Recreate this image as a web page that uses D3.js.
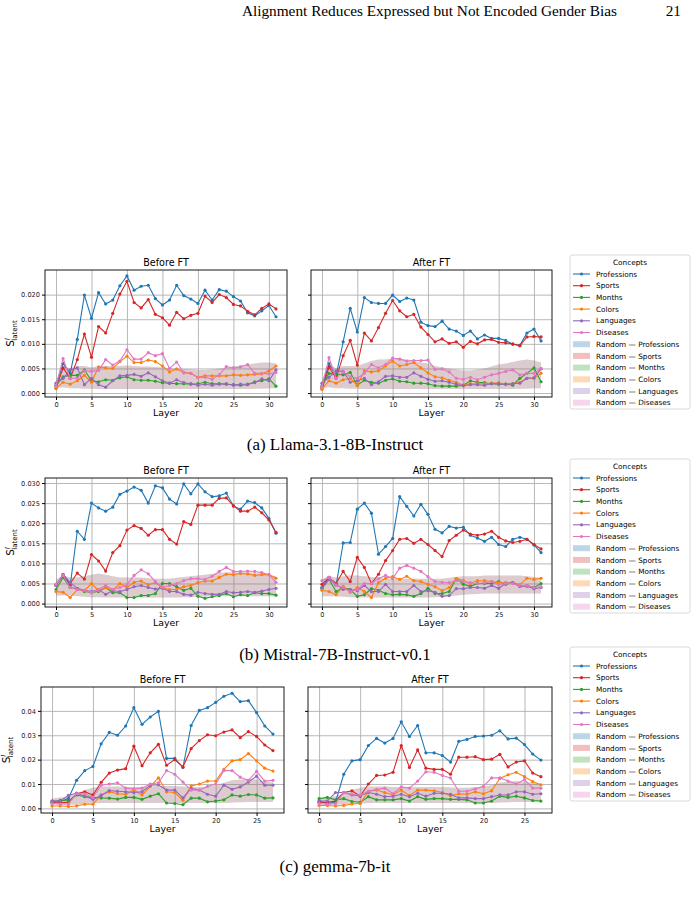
<!DOCTYPE html>
<html>
<head>
<meta charset="utf-8">
<script src="https://cdn.jsdelivr.net/npm/d3@7"></script>
<style>
  body { margin: 0; background: #fff; }
  svg { display: block; }
  .tick text { font-family: "DejaVu Sans", sans-serif; }
</style>
</head>
<body>
<svg id="fig" width="699" height="899"></svg>
<script>
(function() {
    'use strict';

    // ---- data ----
    var concepts = ['Professions', 'Sports', 'Months', 'Colors', 'Languages', 'Diseases'];
    var conceptColors = ['#1f77b4', '#d62728', '#2ca02c', '#ff7f0e', '#9467bd', '#e377c2'];
    var xTicks32 = [0, 5, 10, 15, 20, 25, 30];
    var xTicks28 = [0, 5, 10, 15, 20, 25];
    var yTicksA = [0, 0.005, 0.010, 0.015, 0.020];
    var yTicksB = [0, 0.005, 0.010, 0.015, 0.020, 0.025, 0.030];
    var yTicksC = [0, 0.01, 0.02, 0.03, 0.04];

    // (a) Llama-3.1-8B-Instruct, before FT
    var aBeforeProf = [0.0015,0.0060,0.0040,0.0109,0.0199,0.0152,0.0204,0.0181,0.0189,0.0218,0.0238,0.0209,0.0217,0.0219,0.0192,0.0179,0.0189,0.0219,0.0198,0.0191,0.0182,0.0209,0.0189,0.0210,0.0207,0.0196,0.0187,0.0163,0.0157,0.0167,0.0178,0.0155];
    var aBeforeSports = [0.0010,0.0051,0.0030,0.0068,0.0120,0.0073,0.0135,0.0122,0.0162,0.0201,0.0227,0.0184,0.0173,0.0190,0.0160,0.0153,0.0138,0.0164,0.0151,0.0158,0.0162,0.0197,0.0184,0.0200,0.0194,0.0180,0.0177,0.0166,0.0159,0.0172,0.0181,0.0171];
    var aBeforeMonths = [0.0015,0.0033,0.0036,0.0036,0.0047,0.0025,0.0023,0.0027,0.0026,0.0031,0.0033,0.0027,0.0026,0.0026,0.0024,0.0021,0.0020,0.0019,0.0019,0.0018,0.0019,0.0022,0.0019,0.0019,0.0018,0.0017,0.0016,0.0017,0.0023,0.0025,0.0029,0.0014];
    var aBeforeColors = [0.0010,0.0022,0.0018,0.0025,0.0036,0.0022,0.0053,0.0051,0.0050,0.0064,0.0075,0.0062,0.0062,0.0067,0.0064,0.0055,0.0043,0.0049,0.0042,0.0040,0.0032,0.0035,0.0035,0.0035,0.0035,0.0037,0.0036,0.0037,0.0038,0.0039,0.0045,0.0055];
    var aBeforeLang = [0.0020,0.0030,0.0047,0.0051,0.0017,0.0030,0.0017,0.0012,0.0025,0.0035,0.0036,0.0038,0.0034,0.0041,0.0033,0.0025,0.0020,0.0027,0.0021,0.0019,0.0016,0.0018,0.0016,0.0018,0.0019,0.0016,0.0018,0.0018,0.0021,0.0029,0.0025,0.0047];
    var aBeforeDis = [0.0015,0.0070,0.0030,0.0030,0.0045,0.0044,0.0046,0.0068,0.0057,0.0065,0.0088,0.0069,0.0069,0.0082,0.0076,0.0080,0.0050,0.0063,0.0041,0.0040,0.0031,0.0032,0.0028,0.0037,0.0054,0.0051,0.0053,0.0058,0.0040,0.0040,0.0039,0.0042];
    var aBeforeRandLo = [0.0010,0.0012,0.0010,0.0010,0.0009,0.0009,0.0008,0.0008,0.0008,0.0008,0.0008,0.0008,0.0008,0.0008,0.0008,0.0008,0.0008,0.0008,0.0008,0.0008,0.0008,0.0008,0.0008,0.0008,0.0008,0.0008,0.0008,0.0008,0.0009,0.0009,0.0010,0.0010];
    var aBeforeRandHi = [0.0025,0.0055,0.0050,0.0055,0.0055,0.0052,0.0055,0.0055,0.0055,0.0055,0.0056,0.0055,0.0054,0.0054,0.0053,0.0052,0.0050,0.0050,0.0049,0.0048,0.0047,0.0047,0.0048,0.0050,0.0052,0.0054,0.0056,0.0058,0.0060,0.0062,0.0062,0.0060];

    // (a) after FT
    var aAfterProf = [0.0012,0.0060,0.0035,0.0104,0.0172,0.0124,0.0194,0.0184,0.0182,0.0182,0.0199,0.0186,0.0193,0.0189,0.0144,0.0137,0.0135,0.0146,0.0130,0.0126,0.0117,0.0126,0.0110,0.0118,0.0111,0.0111,0.0107,0.0099,0.0097,0.0122,0.0130,0.0106];
    var aAfterSports = [0.0008,0.0053,0.0030,0.0076,0.0107,0.0057,0.0122,0.0106,0.0133,0.0162,0.0188,0.0167,0.0155,0.0160,0.0134,0.0119,0.0104,0.0110,0.0101,0.0104,0.0093,0.0105,0.0100,0.0108,0.0109,0.0103,0.0102,0.0100,0.0096,0.0114,0.0115,0.0114];
    var aAfterMonths = [0.0015,0.0040,0.0039,0.0037,0.0042,0.0016,0.0026,0.0022,0.0020,0.0026,0.0029,0.0024,0.0023,0.0020,0.0020,0.0019,0.0015,0.0014,0.0014,0.0014,0.0016,0.0025,0.0022,0.0021,0.0019,0.0018,0.0018,0.0016,0.0030,0.0040,0.0051,0.0023];
    var aAfterColors = [0.0008,0.0025,0.0020,0.0027,0.0030,0.0016,0.0045,0.0043,0.0045,0.0055,0.0065,0.0055,0.0058,0.0062,0.0051,0.0041,0.0033,0.0031,0.0026,0.0022,0.0016,0.0019,0.0019,0.0019,0.0020,0.0021,0.0018,0.0019,0.0022,0.0030,0.0030,0.0040];
    var aAfterLang = [0.0020,0.0032,0.0045,0.0044,0.0022,0.0025,0.0030,0.0017,0.0023,0.0034,0.0035,0.0032,0.0032,0.0041,0.0034,0.0028,0.0024,0.0025,0.0022,0.0018,0.0015,0.0017,0.0017,0.0016,0.0019,0.0019,0.0018,0.0019,0.0020,0.0030,0.0031,0.0049];
    var aAfterDis = [0.0013,0.0072,0.0030,0.0043,0.0033,0.0030,0.0040,0.0058,0.0051,0.0058,0.0071,0.0069,0.0065,0.0066,0.0066,0.0067,0.0048,0.0049,0.0043,0.0030,0.0028,0.0032,0.0027,0.0032,0.0037,0.0040,0.0044,0.0047,0.0037,0.0040,0.0040,0.0050];
    var aAfterRandLo = [0.0010,0.0012,0.0010,0.0010,0.0009,0.0009,0.0008,0.0008,0.0008,0.0008,0.0008,0.0008,0.0008,0.0008,0.0008,0.0008,0.0008,0.0008,0.0008,0.0008,0.0008,0.0008,0.0008,0.0008,0.0008,0.0008,0.0008,0.0008,0.0009,0.0009,0.0010,0.0010];
    var aAfterRandHi = [0.0025,0.0060,0.0050,0.0055,0.0055,0.0055,0.0060,0.0065,0.0068,0.0068,0.0070,0.0070,0.0068,0.0066,0.0062,0.0060,0.0055,0.0052,0.0050,0.0048,0.0046,0.0046,0.0048,0.0050,0.0054,0.0058,0.0060,0.0063,0.0066,0.0068,0.0066,0.0062];

    // (b) Mistral-7B-Instruct-v0.1, before FT
    var bBeforeProf = [0.0045,0.0072,0.0045,0.0180,0.0160,0.0250,0.0238,0.0230,0.0240,0.0272,0.0280,0.0290,0.0282,0.0250,0.0293,0.0288,0.0260,0.0248,0.0298,0.0273,0.0298,0.0278,0.0266,0.0268,0.0275,0.0243,0.0235,0.0255,0.0251,0.0238,0.0212,0.0175];
    var bBeforeSports = [0.0048,0.0068,0.0050,0.0076,0.0061,0.0122,0.0106,0.0081,0.0127,0.0144,0.0183,0.0194,0.0187,0.0170,0.0184,0.0184,0.0160,0.0148,0.0204,0.0197,0.0245,0.0245,0.0245,0.0262,0.0263,0.0243,0.0230,0.0230,0.0240,0.0226,0.0208,0.0177];
    var bBeforeMonths = [0.0035,0.0065,0.0040,0.0037,0.0030,0.0028,0.0030,0.0040,0.0027,0.0027,0.0015,0.0015,0.0020,0.0020,0.0025,0.0050,0.0050,0.0042,0.0033,0.0038,0.0018,0.0013,0.0017,0.0020,0.0025,0.0017,0.0022,0.0020,0.0027,0.0025,0.0025,0.0021];
    var bBeforeColors = [0.0030,0.0028,0.0015,0.0035,0.0032,0.0050,0.0032,0.0040,0.0033,0.0050,0.0040,0.0053,0.0056,0.0047,0.0052,0.0040,0.0035,0.0035,0.0042,0.0045,0.0052,0.0056,0.0056,0.0065,0.0073,0.0072,0.0075,0.0074,0.0070,0.0072,0.0072,0.0063];
    var bBeforeLang = [0.0045,0.0073,0.0052,0.0038,0.0033,0.0030,0.0035,0.0023,0.0032,0.0030,0.0035,0.0042,0.0045,0.0040,0.0036,0.0038,0.0030,0.0030,0.0023,0.0021,0.0028,0.0025,0.0023,0.0023,0.0030,0.0027,0.0028,0.0030,0.0028,0.0031,0.0035,0.0038];
    var bBeforeDis = [0.0048,0.0070,0.0040,0.0035,0.0033,0.0028,0.0035,0.0045,0.0035,0.0040,0.0047,0.0070,0.0084,0.0074,0.0055,0.0040,0.0045,0.0050,0.0057,0.0062,0.0062,0.0060,0.0068,0.0080,0.0090,0.0080,0.0080,0.0081,0.0080,0.0077,0.0072,0.0053];
    var bBeforeRandLo = [0.0020,0.0020,0.0020,0.0018,0.0017,0.0016,0.0016,0.0015,0.0015,0.0015,0.0015,0.0015,0.0015,0.0015,0.0015,0.0015,0.0015,0.0015,0.0016,0.0016,0.0017,0.0017,0.0018,0.0018,0.0018,0.0018,0.0018,0.0018,0.0018,0.0018,0.0018,0.0018];
    var bBeforeRandHi = [0.0060,0.0070,0.0065,0.0065,0.0068,0.0072,0.0075,0.0072,0.0068,0.0065,0.0065,0.0065,0.0065,0.0063,0.0062,0.0062,0.0062,0.0064,0.0066,0.0068,0.0070,0.0072,0.0074,0.0076,0.0078,0.0078,0.0078,0.0078,0.0077,0.0075,0.0072,0.0068];

    // (b) after FT
    var bAfterProf = [0.0040,0.0065,0.0045,0.0151,0.0152,0.0235,0.0250,0.0225,0.0123,0.0142,0.0162,0.0266,0.0242,0.0218,0.0247,0.0222,0.0185,0.0176,0.0192,0.0188,0.0190,0.0170,0.0163,0.0155,0.0165,0.0147,0.0142,0.0160,0.0165,0.0160,0.0146,0.0127];
    var bAfterSports = [0.0048,0.0065,0.0050,0.0080,0.0055,0.0115,0.0090,0.0050,0.0073,0.0107,0.0132,0.0160,0.0162,0.0150,0.0160,0.0147,0.0132,0.0117,0.0157,0.0170,0.0183,0.0173,0.0170,0.0173,0.0180,0.0165,0.0156,0.0152,0.0155,0.0160,0.0147,0.0136];
    var bAfterMonths = [0.0037,0.0060,0.0030,0.0040,0.0035,0.0018,0.0022,0.0037,0.0033,0.0025,0.0022,0.0023,0.0022,0.0018,0.0025,0.0038,0.0025,0.0025,0.0030,0.0062,0.0048,0.0043,0.0050,0.0050,0.0050,0.0055,0.0048,0.0052,0.0043,0.0045,0.0040,0.0050];
    var bAfterColors = [0.0033,0.0030,0.0022,0.0043,0.0028,0.0040,0.0030,0.0015,0.0052,0.0063,0.0067,0.0060,0.0068,0.0057,0.0055,0.0048,0.0042,0.0032,0.0040,0.0063,0.0057,0.0050,0.0057,0.0057,0.0055,0.0052,0.0052,0.0052,0.0047,0.0063,0.0060,0.0063];
    var bAfterLang = [0.0040,0.0060,0.0048,0.0035,0.0035,0.0032,0.0045,0.0030,0.0030,0.0048,0.0030,0.0030,0.0030,0.0045,0.0030,0.0032,0.0028,0.0018,0.0020,0.0037,0.0037,0.0040,0.0040,0.0038,0.0045,0.0038,0.0050,0.0052,0.0043,0.0043,0.0037,0.0040];
    var bAfterDis = [0.0057,0.0065,0.0045,0.0040,0.0030,0.0035,0.0050,0.0050,0.0062,0.0070,0.0062,0.0088,0.0095,0.0088,0.0080,0.0067,0.0055,0.0053,0.0052,0.0057,0.0055,0.0052,0.0050,0.0052,0.0055,0.0047,0.0050,0.0050,0.0045,0.0045,0.0040,0.0042];
    var bAfterRandLo = [0.0018,0.0018,0.0018,0.0017,0.0016,0.0015,0.0015,0.0015,0.0015,0.0015,0.0015,0.0015,0.0015,0.0015,0.0015,0.0015,0.0016,0.0017,0.0018,0.0020,0.0022,0.0023,0.0024,0.0025,0.0025,0.0025,0.0025,0.0025,0.0025,0.0025,0.0025,0.0025];
    var bAfterRandHi = [0.0060,0.0068,0.0065,0.0068,0.0070,0.0070,0.0068,0.0066,0.0064,0.0062,0.0062,0.0062,0.0062,0.0062,0.0062,0.0062,0.0062,0.0062,0.0064,0.0066,0.0068,0.0068,0.0068,0.0070,0.0070,0.0070,0.0070,0.0070,0.0070,0.0068,0.0066,0.0064];

    // (c) gemma-7b-it, before FT
    var cBeforeProf = [0.0030,0.0028,0.0040,0.0115,0.0155,0.0172,0.0265,0.0312,0.0300,0.0338,0.0413,0.0345,0.0375,0.0398,0.0205,0.0205,0.0168,0.0340,0.0402,0.0413,0.0435,0.0460,0.0472,0.0438,0.0442,0.0393,0.0338,0.0305];
    var cBeforeSports = [0.0023,0.0023,0.0025,0.0060,0.0068,0.0055,0.0107,0.0145,0.0157,0.0163,0.0255,0.0175,0.0228,0.0263,0.0177,0.0200,0.0170,0.0245,0.0278,0.0302,0.0298,0.0313,0.0322,0.0290,0.0315,0.0295,0.0260,0.0237];
    var cBeforeMonths = [0.0025,0.0033,0.0030,0.0055,0.0048,0.0045,0.0043,0.0042,0.0038,0.0045,0.0045,0.0037,0.0050,0.0060,0.0022,0.0020,0.0015,0.0042,0.0042,0.0027,0.0030,0.0035,0.0055,0.0050,0.0057,0.0055,0.0042,0.0043];
    var cBeforeColors = [0.0010,0.0010,0.0008,0.0010,0.0017,0.0017,0.0055,0.0068,0.0060,0.0058,0.0075,0.0055,0.0090,0.0125,0.0068,0.0065,0.0033,0.0092,0.0100,0.0112,0.0112,0.0160,0.0195,0.0200,0.0225,0.0195,0.0165,0.0153];
    var cBeforeLang = [0.0030,0.0030,0.0053,0.0063,0.0050,0.0037,0.0053,0.0073,0.0070,0.0068,0.0065,0.0068,0.0095,0.0097,0.0075,0.0075,0.0043,0.0082,0.0075,0.0058,0.0050,0.0095,0.0078,0.0088,0.0108,0.0132,0.0095,0.0095];
    var cBeforeDis = [0.0020,0.0018,0.0018,0.0060,0.0060,0.0045,0.0095,0.0100,0.0105,0.0083,0.0080,0.0083,0.0100,0.0105,0.0155,0.0140,0.0108,0.0075,0.0075,0.0090,0.0100,0.0155,0.0155,0.0128,0.0115,0.0152,0.0112,0.0115];
    var cBeforeRandLo = [0.0015,0.0015,0.0015,0.0015,0.0018,0.0020,0.0022,0.0022,0.0022,0.0022,0.0022,0.0022,0.0022,0.0022,0.0022,0.0022,0.0022,0.0022,0.0022,0.0022,0.0022,0.0022,0.0024,0.0025,0.0026,0.0026,0.0026,0.0026];
    var cBeforeRandHi = [0.0040,0.0045,0.0050,0.0060,0.0075,0.0085,0.0090,0.0090,0.0090,0.0088,0.0088,0.0088,0.0090,0.0092,0.0092,0.0092,0.0090,0.0088,0.0088,0.0090,0.0095,0.0105,0.0115,0.0118,0.0120,0.0118,0.0110,0.0105];

    // (c) after FT
    var cAfterProf = [0.0030,0.0020,0.0025,0.0140,0.0195,0.0200,0.0258,0.0287,0.0268,0.0287,0.0355,0.0295,0.0340,0.0228,0.0228,0.0217,0.0190,0.0275,0.0283,0.0295,0.0297,0.0300,0.0318,0.0285,0.0288,0.0262,0.0223,0.0198];
    var cAfterSports = [0.0025,0.0025,0.0030,0.0065,0.0072,0.0050,0.0100,0.0135,0.0137,0.0148,0.0258,0.0168,0.0240,0.0165,0.0160,0.0160,0.0140,0.0210,0.0210,0.0212,0.0200,0.0202,0.0222,0.0170,0.0190,0.0195,0.0145,0.0130];
    var cAfterMonths = [0.0040,0.0045,0.0035,0.0040,0.0028,0.0025,0.0048,0.0035,0.0035,0.0035,0.0040,0.0030,0.0048,0.0037,0.0040,0.0040,0.0037,0.0037,0.0035,0.0022,0.0022,0.0030,0.0050,0.0045,0.0050,0.0043,0.0032,0.0030];
    var cAfterColors = [0.0012,0.0012,0.0010,0.0012,0.0018,0.0020,0.0070,0.0075,0.0065,0.0055,0.0075,0.0052,0.0075,0.0075,0.0072,0.0065,0.0052,0.0060,0.0058,0.0068,0.0060,0.0072,0.0123,0.0138,0.0148,0.0130,0.0110,0.0097];
    var cAfterLang = [0.0030,0.0030,0.0065,0.0065,0.0055,0.0052,0.0065,0.0058,0.0048,0.0050,0.0058,0.0048,0.0062,0.0050,0.0062,0.0062,0.0058,0.0043,0.0043,0.0040,0.0040,0.0048,0.0055,0.0055,0.0068,0.0068,0.0058,0.0060];
    var cAfterDis = [0.0020,0.0017,0.0020,0.0065,0.0058,0.0055,0.0070,0.0078,0.0083,0.0060,0.0088,0.0083,0.0112,0.0150,0.0148,0.0135,0.0125,0.0070,0.0070,0.0080,0.0090,0.0125,0.0125,0.0112,0.0100,0.0118,0.0083,0.0083];
    var cAfterRandLo = [0.0015,0.0015,0.0015,0.0015,0.0018,0.0020,0.0022,0.0022,0.0022,0.0022,0.0022,0.0022,0.0022,0.0022,0.0022,0.0022,0.0022,0.0022,0.0022,0.0022,0.0022,0.0022,0.0024,0.0025,0.0026,0.0026,0.0026,0.0026];
    var cAfterRandHi = [0.0040,0.0045,0.0050,0.0060,0.0075,0.0085,0.0090,0.0090,0.0090,0.0088,0.0088,0.0088,0.0088,0.0088,0.0088,0.0088,0.0086,0.0085,0.0085,0.0087,0.0090,0.0095,0.0105,0.0110,0.0112,0.0110,0.0105,0.0100];

    // ---- layout ----
    var rows = [
        {top: 270, bottom: 397, yDom: [-0.0008, 0.0250], yTicks: yTicksA, fmt: '.3f', xTicks: xTicks32,
         xDom: [-1.55, 32.55], lefts: [[45, 287], [311, 552]], legendTop: 255,
         caption: '(a) Llama-3.1-8B-Instruct', captionY: 450,
         series: [[aBeforeProf, aBeforeSports, aBeforeMonths, aBeforeColors, aBeforeLang, aBeforeDis],
                  [aAfterProf, aAfterSports, aAfterMonths, aAfterColors, aAfterLang, aAfterDis]],
         rand: [[aBeforeRandLo, aBeforeRandHi], [aAfterRandLo, aAfterRandHi]]},
        {top: 478, bottom: 607, yDom: [-0.00085, 0.03125], yTicks: yTicksB, fmt: '.3f', xTicks: xTicks32,
         xDom: [-1.55, 32.55], lefts: [[45, 287], [311, 552]], legendTop: 459,
         caption: '(b) Mistral-7B-Instruct-v0.1', captionY: 660,
         series: [[bBeforeProf, bBeforeSports, bBeforeMonths, bBeforeColors, bBeforeLang, bBeforeDis],
                  [bAfterProf, bAfterSports, bAfterMonths, bAfterColors, bAfterLang, bAfterDis]],
         rand: [[bBeforeRandLo, bBeforeRandHi], [bAfterRandLo, bAfterRandHi]]},
        {top: 687, bottom: 813, yDom: [-0.0019, 0.0498], yTicks: yTicksC, fmt: '.2f', xTicks: xTicks28,
         xDom: [-1.35, 28.35], lefts: [[41, 284], [308, 552]], legendTop: 647,
         caption: '(c) gemma-7b-it', captionY: 872,
         series: [[cBeforeProf, cBeforeSports, cBeforeMonths, cBeforeColors, cBeforeLang, cBeforeDis],
                  [cAfterProf, cAfterSports, cAfterMonths, cAfterColors, cAfterLang, cAfterDis]],
         rand: [[cBeforeRandLo, cBeforeRandHi], [cAfterRandLo, cAfterRandHi]]}
    ];
    var titles = ['Before FT', 'After FT'];

    var svg = d3.select('#fig');
    svg.append('rect').attr('width', 699).attr('height', 899).attr('fill', '#fff');

    // page header
    svg.append('text')
        .attr('x', 617).attr('y', 16)
        .attr('text-anchor', 'end')
        .style('font-family', '"Liberation Serif", "DejaVu Serif", serif')
        .style('font-size', '15.3px')
        .text('Alignment Reduces Expressed but Not Encoded Gender Bias');
    svg.append('text')
        .attr('x', 681).attr('y', 16)
        .attr('text-anchor', 'end')
        .style('font-family', '"Liberation Serif", "DejaVu Serif", serif')
        .style('font-size', '15.3px')
        .text('21');

    rows.forEach(function(row) {
        row.lefts.forEach(function(ext, pi) {
            var x = d3.scaleLinear().domain(row.xDom).range(ext);
            var y = d3.scaleLinear().domain(row.yDom).range([row.bottom, row.top]);
            var g = svg.append('g');
            var h = row.bottom - row.top;

            // grid
            g.append('g')
                .attr('transform', 'translate(0,' + row.bottom + ')')
                .call(d3.axisBottom(x).tickValues(row.xTicks).tickSize(-h).tickFormat(''))
                .call(function(s) {
                    s.select('.domain').remove();
                    s.selectAll('line').attr('stroke', '#b0b0b0').attr('stroke-width', 0.9);
                });
            g.append('g')
                .attr('transform', 'translate(' + ext[0] + ',0)')
                .call(d3.axisLeft(y).tickValues(row.yTicks).tickSize(-(ext[1] - ext[0])).tickFormat(''))
                .call(function(s) {
                    s.select('.domain').remove();
                    s.selectAll('line').attr('stroke', '#b0b0b0').attr('stroke-width', 0.9);
                });

            // random baseline bands
            var band = row.rand[pi];
            var area = d3.area()
                .x(function(d, i) { return x(i); })
                .y0(function(d, i) { return y(band[0][i]); })
                .y1(function(d, i) { return y(band[1][i]); });
            conceptColors.forEach(function(c) {
                g.append('path')
                    .datum(band[0])
                    .attr('d', area)
                    .attr('fill', c)
                    .attr('fill-opacity', 0.065);
            });

            // concept lines
            var line = d3.line()
                .x(function(d, i) { return x(i); })
                .y(function(d) { return y(d); });
            row.series[pi].forEach(function(vals, si) {
                g.append('path')
                    .datum(vals)
                    .attr('d', line)
                    .attr('fill', 'none')
                    .attr('stroke', conceptColors[si])
                    .attr('stroke-width', 1.1);
                g.selectAll(null)
                    .data(vals)
                    .enter()
                    .append('circle')
                    .attr('cx', function(d, i) { return x(i); })
                    .attr('cy', function(d) { return y(d); })
                    .attr('r', 1.6)
                    .attr('fill', conceptColors[si]);
            });

            // frame
            g.append('rect')
                .attr('x', ext[0]).attr('y', row.top)
                .attr('width', ext[1] - ext[0]).attr('height', h)
                .attr('fill', 'none').attr('stroke', '#000').attr('stroke-width', 0.9);

            // axes
            g.append('g')
                .attr('transform', 'translate(0,' + row.bottom + ')')
                .call(d3.axisBottom(x).tickValues(row.xTicks).tickSize(3).tickPadding(2).tickFormat(d3.format('d')))
                .call(function(s) {
                    s.select('.domain').remove();
                    s.selectAll('text').style('font-size', '6.6px').attr('fill', '#222');
                });
            g.append('g')
                .attr('transform', 'translate(' + ext[0] + ',0)')
                .call(d3.axisLeft(y).tickValues(row.yTicks).tickSize(3).tickPadding(2)
                    .tickFormat(pi === 0 ? d3.format(row.fmt) : ''))
                .call(function(s) {
                    s.select('.domain').remove();
                    s.selectAll('text').style('font-size', '6.6px').attr('fill', '#222');
                });

            // title + x label
            g.append('text')
                .attr('x', (ext[0] + ext[1]) / 2).attr('y', row.top - 4)
                .attr('text-anchor', 'middle')
                .style('font-family', '"DejaVu Sans", sans-serif')
                .style('font-size', '9.6px')
                .text(titles[pi]);
            g.append('text')
                .attr('x', (ext[0] + ext[1]) / 2).attr('y', row.bottom + 19)
                .attr('text-anchor', 'middle')
                .style('font-family', '"DejaVu Sans", sans-serif')
                .style('font-size', '9.4px')
                .text('Layer');

            if (pi === 0) {
                var yl = g.append('text')
                    .attr('transform', 'translate(' + (ext[0] - 31) + ',' + ((row.top + row.bottom) / 2) + ') rotate(-90)')
                    .attr('text-anchor', 'middle')
                    .style('font-family', '"DejaVu Sans", sans-serif')
                    .style('font-size', '10.5px');
                yl.append('tspan').text('S');
                yl.append('tspan').attr('dy', -3.8).style('font-size', '7px').style('font-style', 'italic').text('l');
                yl.append('tspan').attr('dy', 7).attr('dx', -2.5).style('font-size', '7px').text('latent');
            }
        });

        // legend
        var lx = 570, ly = row.legendTop;
        var lg = svg.append('g').attr('transform', 'translate(' + lx + ',' + ly + ')');
        lg.append('rect')
            .attr('width', 120).attr('height', 154).attr('rx', 2)
            .attr('fill', '#fff').attr('stroke', '#d0d0d0').attr('stroke-width', 0.8);
        lg.append('text')
            .attr('x', 60).attr('y', 10)
            .attr('text-anchor', 'middle')
            .style('font-family', '"DejaVu Sans", sans-serif')
            .style('font-size', '7.3px')
            .text('Concepts');
        var labels = concepts.concat(concepts.map(function(c) { return 'Random \u2014 ' + c; }));
        labels.forEach(function(lab, i) {
            var cy = 19 + i * 11.7;
            var col = conceptColors[i % 6];
            if (i < 6) {
                lg.append('line')
                    .attr('x1', 3).attr('x2', 20).attr('y1', cy).attr('y2', cy)
                    .attr('stroke', col).attr('stroke-width', 1.1);
                lg.append('circle').attr('cx', 11.5).attr('cy', cy).attr('r', 1.6).attr('fill', col);
            } else {
                lg.append('rect')
                    .attr('x', 3).attr('y', cy - 3).attr('width', 17).attr('height', 6)
                    .attr('fill', col).attr('fill-opacity', 0.3);
            }
            lg.append('text')
                .attr('x', 26).attr('y', cy + 2.6)
                .style('font-family', '"DejaVu Sans", sans-serif')
                .style('font-size', '7.3px')
                .text(lab);
        });

        // caption
        svg.append('text')
            .attr('x', 335).attr('y', row.captionY)
            .attr('text-anchor', 'middle')
            .style('font-family', '"Liberation Serif", "DejaVu Serif", serif')
            .style('font-size', '17px')
            .text(row.caption);
    });
})();
</script>
</body>
</html>
